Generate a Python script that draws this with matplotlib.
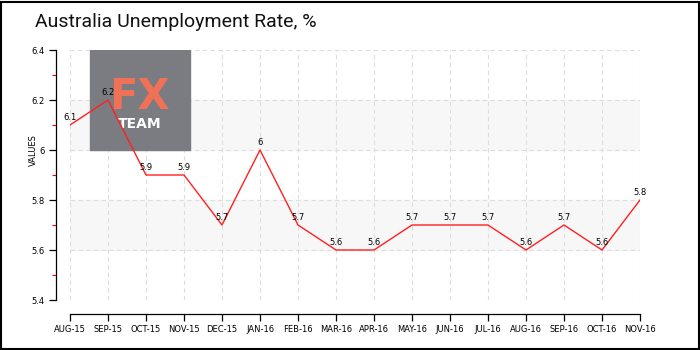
import matplotlib
matplotlib.use("Agg")
import matplotlib.pyplot as plt
import matplotlib.patches as patches

# data
months = ["AUG-15", "SEP-15", "OCT-15", "NOV-15", "DEC-15", "JAN-16", "FEB-16", "MAR-16",
          "APR-16", "MAY-16", "JUN-16", "JUL-16", "AUG-16", "SEP-16", "OCT-16", "NOV-16"]
rates = [6.1, 6.2, 5.9, 5.9, 5.7, 6.0, 5.7, 5.6, 5.6, 5.7, 5.7, 5.7, 5.6, 5.7, 5.6, 5.8]
point_labels = ["6.1", "6.2", "5.9", "5.9", "5.7", "6", "5.7", "5.6",
                "5.6", "5.7", "5.7", "5.7", "5.6", "5.7", "5.6", "5.8"]
y_major = [5.4, 5.6, 5.8, 6.0, 6.2, 6.4]
y_major_labels = ["5.4", "5.6", "5.8", "6", "6.2", "6.4"]
y_minor = [5.5, 5.7, 5.9, 6.1, 6.3]
bands = [(5.6, 5.8), (6.0, 6.2)]

W, H = 700, 350
fig = plt.figure(figsize=(7, 3.5), dpi=100)
fig.patch.set_facecolor("white")

# plot area in pixels: x 70..640, y 50..300
ax = fig.add_axes([70 / W, 50 / H, 570 / W, 250 / H])
x = list(range(len(months)))

# spines first - set_position resets the ticks
for s in ["top", "right"]:
    ax.spines[s].set_visible(False)
ax.spines["left"].set_position(("outward", 10))
ax.spines["bottom"].set_position(("outward", 10))
ax.spines["left"].set_linewidth(0.9)
ax.spines["bottom"].set_linewidth(0.9)

ax.set_xlim(0, len(months) - 1)
ax.set_ylim(5.4, 6.4)

# grey stripes
for lo, hi in bands:
    ax.axhspan(lo, hi, color="#f7f7f7", zorder=0)

# dashed grid
for xv in x:
    ax.axvline(xv, color="#dddddd", lw=0.8, ls=(0, (4, 3)), zorder=1)
for yv in y_major:
    ax.axhline(yv, color="#dddddd", lw=0.8, ls=(0, (4, 3)), zorder=1)

# logo box (drawn inside the axes so the value labels sit on top of it)
ax.add_patch(patches.Rectangle((90 / W, 200 / H), 100 / W, 100 / H,
                               transform=fig.transFigure, color="#7b7b82", zorder=2))
ax.text(139 / W, 1 - 109 / H, "FX", color="#f07155", fontsize=30, ha="center", va="baseline",
        fontweight="bold", transform=fig.transFigure, zorder=3)
ax.text(140 / W, 1 - 128 / H, "TEAM", color="white", fontsize=10, ha="center", va="baseline",
        fontweight="bold", transform=fig.transFigure, zorder=3)

ax.plot(x, rates, color="#ff2020", lw=1, zorder=4)
for xi, yi, lab in zip(x, rates, point_labels):
    ax.annotate(lab, (xi, yi), xytext=(0, 2), textcoords="offset points",
                ha="center", va="bottom", fontsize=6, color="black", zorder=5)

ax.set_xticks(x)
ax.set_xticklabels(months)
ax.set_yticks(y_major)
ax.set_yticklabels(y_major_labels)
ax.set_yticks(y_minor, minor=True)
ax.tick_params(axis="y", which="minor", length=3, color="red", width=0.8)
ax.tick_params(axis="both", which="major", length=5, width=0.9, pad=3, labelsize=6)

ax.set_ylabel("VALUES", fontsize=6)
ax.yaxis.set_label_coords((38 - 70) / 570, 0.6)
ax.set_facecolor("none")

fig.text(35 / W, 1 - 22 / H, "Australia Unemployment Rate, %", fontsize=14,
         va="center", ha="left", color="#111111", family=["Roboto", "DejaVu Sans"])

# figure border
fig.add_artist(patches.Rectangle((0.5 / W, 1.5 / H), 698 / W, 347 / H,
                                 transform=fig.transFigure, fill=False,
                                 edgecolor="black", lw=1.5))

fig.savefig("out.png", dpi=100)
